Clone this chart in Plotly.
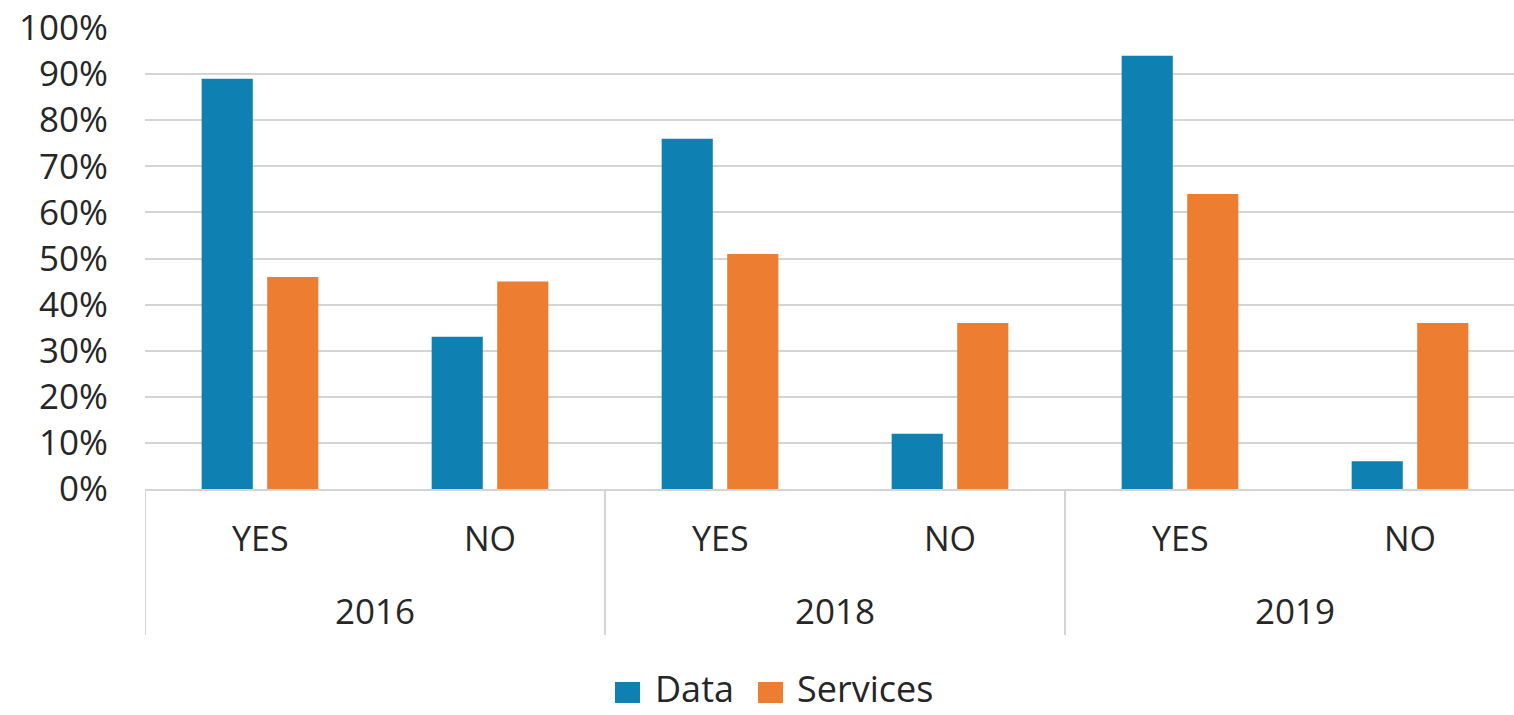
import plotly.graph_objects as go

# Survey answers by year
years = ["2016", "2016", "2018", "2018", "2019", "2019"]
answers = ["YES", "NO", "YES", "NO", "YES", "NO"]
data_pct = [89, 33, 76, 12, 94, 6]
services_pct = [46, 45, 51, 36, 64, 36]

series_names = ["Data", "Services"]
series_colors = ["#0E80B1", "#ED7D31"]
y_ticks = [0, 10, 20, 30, 40, 50, 60, 70, 80, 90, 100]
y_tick_text = [f"{v}%" for v in y_ticks]

FONT = "Open Sans, Lato, sans-serif"
TEXT = "#262626"
GRID = "#d4d4d4"

W, H = 1514, 715
ML, MR, MT, MB = 145, 0, 28, 226
plot_w = W - ML - MR
plot_h = H - MT - MB
plot_bottom = MT + plot_h
cat_w = 230  # pixels per category


def paper_y(py):
    """Convert a pixel row of the page into a paper y coordinate."""
    return (plot_bottom - py) / plot_h


# one category per (year, answer) pair
cat_keys = [f"{y} {a}" for y, a in zip(years, answers)]

fig = go.Figure()
for name, vals, col in zip(series_names, [data_pct, services_pct], series_colors):
    fig.add_trace(go.Bar(
        x=cat_keys, y=vals, name=name,
        marker=dict(color=col, line=dict(width=0)),
        showlegend=False,
    ))

fig.update_layout(
    width=W, height=H,
    margin=dict(l=ML, r=MR, t=MT, b=MB, pad=0),
    paper_bgcolor="white", plot_bgcolor="white",
    barmode="group", bargap=0.43, bargroupgap=0.22,
    font=dict(family=FONT, size=34, color=TEXT),
)

fig.update_xaxes(
    type="category", categoryorder="array", categoryarray=cat_keys,
    range=[-0.5, -0.5 + plot_w / cat_w],
    showline=True, linecolor=GRID, linewidth=2,
    showgrid=False, ticks="", showticklabels=False,
)
fig.update_yaxes(
    range=[0, 100], tickmode="array", tickvals=y_ticks, ticktext=y_tick_text,
    showgrid=True, gridcolor=GRID, gridwidth=2,
    zeroline=False, showline=False, ticks="",
    ticklabelstandoff=36,
    tickfont=dict(family=FONT, size=35, color=TEXT),
)

# first-level labels (YES / NO) under each category
for i, a in enumerate(answers):
    fig.add_annotation(
        text=a, xref="x", yref="paper", x=i, y=paper_y(538),
        xanchor="center", yanchor="middle", showarrow=False,
        font=dict(family=FONT, size=34, color=TEXT),
    )

# second-level labels (years) and group dividers
group_years = []
group_start = []
for i, y in enumerate(years):
    if not group_years or group_years[-1] != y:
        group_years.append(y)
        group_start.append(i)
group_end = group_start[1:] + [len(years)]

for y, s, e in zip(group_years, group_start, group_end):
    fig.add_annotation(
        text=y, xref="x", yref="paper", x=(s + e - 1) / 2, y=paper_y(610),
        xanchor="center", yanchor="middle", showarrow=False,
        font=dict(family=FONT, size=35, color=TEXT),
    )
for b in group_start:
    fig.add_shape(
        type="line", xref="x", yref="paper",
        x0=b - 0.5, x1=b - 0.5, y0=paper_y(489), y1=paper_y(635),
        line=dict(color=GRID, width=2),
    )

# legend: colour swatches with series names
legend_x = [615, 758]
label_x = [653, 795]
for name, col, sx, lx in zip(series_names, series_colors, legend_x, label_x):
    fig.add_shape(
        type="rect", xref="paper", yref="paper",
        xsizemode="pixel", ysizemode="pixel",
        xanchor=0, yanchor=0,
        x0=sx - ML, x1=sx - ML + 25,
        y0=plot_bottom - 703, y1=plot_bottom - 682,
        fillcolor=col, line=dict(width=0), layer="above",
    )
    fig.add_annotation(
        text=name, xref="paper", yref="paper",
        x=(lx - ML) / plot_w, y=paper_y(715),
        xanchor="left", yanchor="bottom", showarrow=False,
        font=dict(family=FONT, size=36, color=TEXT),
    )

fig.write_html("out.html")
